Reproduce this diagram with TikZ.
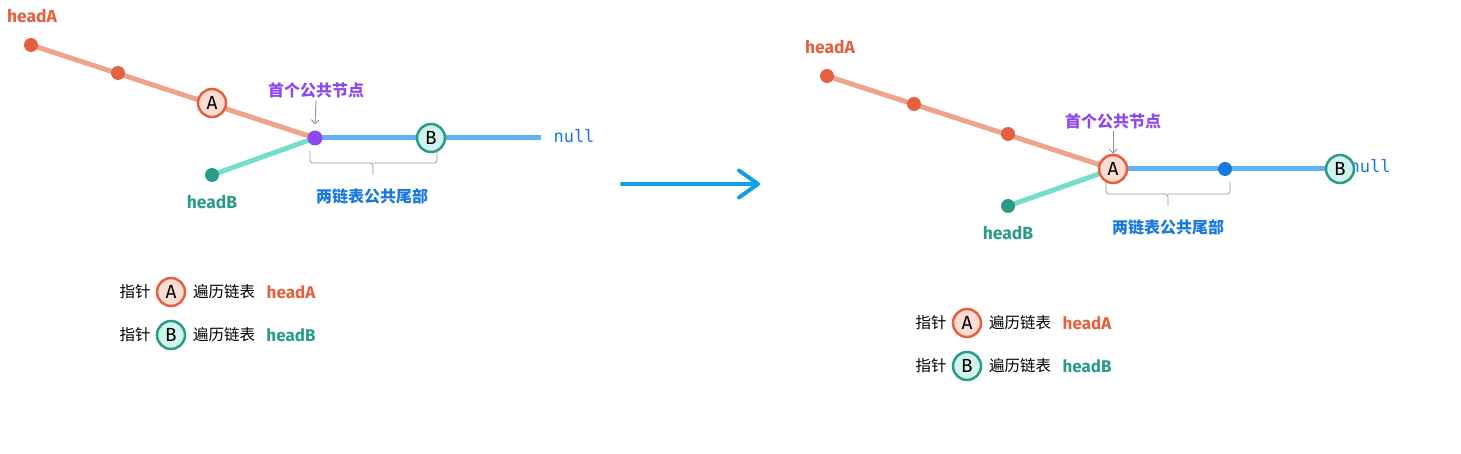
\documentclass[tikz,border=0pt]{standalone}
\usepackage{fontspec}
\setmainfont{Fira Sans}
\setmonofont{DejaVu Sans Mono}
\newfontfamily\cjk{Noto Sans CJK SC}
\usetikzlibrary{arrows.meta}
\definecolor{ared}{HTML}{E5603E}
\definecolor{aline}{HTML}{F0A38C}
\definecolor{afill}{HTML}{FBDDD3}
\definecolor{bteal}{HTML}{2A9A89}
\definecolor{bline}{HTML}{74DDCC}
\definecolor{bfill}{HTML}{D1F3EC}
\definecolor{tail}{HTML}{5EB0F7}
\definecolor{tailtxt}{HTML}{1878E0}
\definecolor{purp}{HTML}{8E49EE}
\definecolor{arr}{HTML}{0CA2E6}

\begin{document}
\begin{tikzpicture}[x=1pt,y=-1pt,
dotA/.style={circle,fill=ared,inner sep=0pt,minimum size=14pt},
dotB/.style={circle,fill=bteal,inner sep=0pt,minimum size=14pt},
dotP/.style={circle,fill=purp,inner sep=0pt,minimum size=15pt},
dotT/.style={circle,fill=tailtxt,inner sep=0pt,minimum size=14pt},
ptr/.style={circle,line width=2.5pt,inner sep=0pt,minimum size=28pt,font=\fontsize{19}{19}\selectfont},
ptrA/.style={ptr,draw=ared,fill=afill},
ptrB/.style={ptr,draw=bteal,fill=bfill},
lineA/.style={line width=5pt,draw=aline},
lineB/.style={line width=5pt,draw=bline},
lineT/.style={line width=5pt,draw=tail},
lbl/.style={font=\fontsize{17.5}{18}\selectfont\bfseries},
zh/.style={font=\cjk\fontsize{16}{16}\selectfont\bfseries},
legzh/.style={font=\cjk\fontsize{15.5}{16}\selectfont},
legen/.style={font=\fontsize{17}{17}\selectfont\bfseries},
nul/.style={text=tailtxt,font=\ttfamily\fontsize{17}{17}\selectfont},
brace/.style={draw=gray!80,line width=0.8pt,rounded corners=3pt},
hint/.style={draw=gray!90,line width=0.8pt,-{Straight Barb[length=4pt,width=8pt]}}]
\useasboundingbox (0,0) rectangle (1461,454);

%left: pointers start at headA and headB
\begin{scope}
\coordinate (la1) at (31,45);
\coordinate (la2) at (118,73);
\coordinate (la3) at (212,103);
\coordinate (lp) at (315,138);
\coordinate (lt1) at (431,138);
\coordinate (lend) at (541,138);
\coordinate (lb1) at (212,175);
\draw[lineA] (la1) -- (lp);
\draw[lineB] (lb1) -- (lp);
\draw[lineT] (lp) -- (lend);
\foreach \x in {la1,la2} \node[dotA] at (\x) {};
\node[dotB] at (lb1) {};
\node[ptrA] (lA) at (la3) {A};
\node[dotP] (lP) at (lp) {};
\node[ptrB] (lB) at (lt1) {B};
\node[nul] (lnull) at (574,136) {null};
\node[lbl,text=ared] (lheadA) at (32,16) {headA};
\node[lbl,text=bteal] (lheadB) at (212,202) {headB};
\node[zh,text=purp] (lfirst) at (316,90) {首个公共节点};
\draw[hint] (lfirst.south) ++(0,-1) coordinate (lh) (lh) -- ([yshift=6pt]lP.north);
%brace under the common tail
\draw[brace] (310,151) -- (310,163) -- (373,163) -- (373,175);
\draw[brace] (437,151) -- (437,163) -- (373,163);
\node[zh,text=tailtxt] (ltail) at (372,196) {两链表公共尾部};
%legend
\node[legzh] (lg1) at (135,292) {指针};
\node[ptrA] (lgA) at (171,292) {A};
\node[legzh] (lg2) at (224,292) {遍历链表};
\node[legen,text=ared] (lg3) at (291,292) {headA};
\node[legzh] (lg4) at (135,335) {指针};
\node[ptrB] (lgB) at (171,335) {B};
\node[legzh] (lg5) at (224,335) {遍历链表};
\node[legen,text=bteal] (lg6) at (291,335) {headB};
\end{scope}

%middle arrow
\coordinate (ms) at (622,184);
\coordinate (mt) at (760,184);
\draw[draw=arr,line width=4pt,line cap=round,-{Straight Barb[length=19pt,width=27pt,round]}] (ms) -- (mt);

%right: both pointers one step further
\begin{scope}[shift={(796,31)}]
\coordinate (ra1) at (31,45);
\coordinate (ra2) at (118,73);
\coordinate (ra3) at (212,103);
\coordinate (rp) at (317,138);
\coordinate (rt1) at (429,138);
\coordinate (rend) at (544,138);
\coordinate (rb1) at (212,175);
\draw[lineA] (ra1) -- (rp);
\draw[lineB] (rb1) -- (rp);
\draw[lineT] (rp) -- (rend);
\foreach \x in {ra1,ra2,ra3} \node[dotA] at (\x) {};
\node[dotB] at (rb1) {};
\node[dotT] at (rt1) {};
\node[ptrA] (rA) at (rp) {A};
\node[nul] (rnull) at (574,135) {null};
\node[ptrB] (rB) at (rend) {B};
\node[lbl,text=ared] (rheadA) at (34,16) {headA};
\node[lbl,text=bteal] (rheadB) at (212,202) {headB};
\node[zh,text=purp] (rfirst) at (317,90) {首个公共节点};
\draw[hint] (rfirst.south) ++(0,-1) coordinate (rh) (rh) -- (rA.north);
%brace under the common tail
\draw[brace] (310,151) -- (310,163) -- (372,163) -- (372,175);
\draw[brace] (434,151) -- (434,163) -- (372,163);
\node[zh,text=tailtxt] (rtail) at (372,196) {两链表公共尾部};
%legend
\node[legzh] (rg1) at (135,292) {指针};
\node[ptrA] (rgA) at (171,292) {A};
\node[legzh] (rg2) at (224,292) {遍历链表};
\node[legen,text=ared] (rg3) at (291,292) {headA};
\node[legzh] (rg4) at (135,335) {指针};
\node[ptrB] (rgB) at (171,335) {B};
\node[legzh] (rg5) at (224,335) {遍历链表};
\node[legen,text=bteal] (rg6) at (291,335) {headB};
\end{scope}
\end{tikzpicture}
\end{document}
